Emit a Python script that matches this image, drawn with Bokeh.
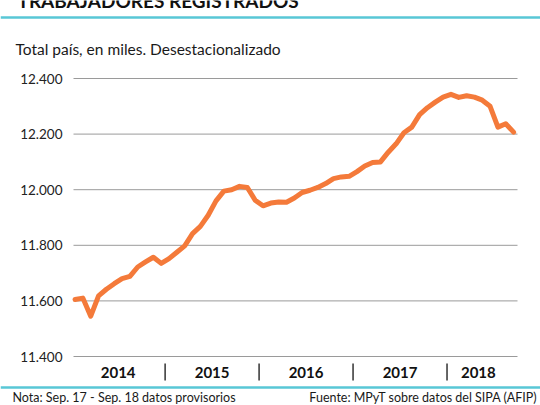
from bokeh.plotting import figure
from bokeh.models import Range1d
from bokeh.core.properties import value
from bokeh.embed import file_html
from bokeh.resources import INLINE

# ---- data ----
years = ["2014", "2015", "2016", "2017", "2018"]
values = [
    11605, 11610, 11545, 11618, 11642, 11662, 11680, 11688, 11722, 11740, 11757, 11735,   # 2014
    11752, 11775, 11798, 11842, 11868, 11908, 11960, 11995, 12000, 12012, 12008, 11962,   # 2015
    11942, 11952, 11956, 11955, 11970, 11990, 11998, 12008, 12022, 12040, 12046, 12048,   # 2016
    12065, 12085, 12098, 12100, 12135, 12165, 12205, 12225, 12270, 12295, 12315, 12333,   # 2017
    12343, 12332, 12338, 12333, 12322, 12300, 12225, 12237, 12207,                        # 2018 (to Sep)
]
y_ticks = [11400, 11600, 11800, 12000, 12200, 12400]
y_tick_labels = [f"{v:,}".replace(",", ".") for v in y_ticks]
title = "TRABAJADORES REGISTRADOS"
subtitle = "Total país, en miles. Desestacionalizado"
note = "Nota: Sep. 17 - Sep. 18 datos provisorios"
source = "Fuente: MPyT sobre datos del SIPA (AFIP)"

months = [i + 0.5 for i in range(len(values))]
X0, X1 = 0.3, 57.0                      # plotted month span
separators = [12 * (i + 1) for i in range(len(years) - 1)]
label_pos = [12 * i + 6 for i in range(len(years) - 1)] + [round((separators[-1] + X1) / 2)]

FONT = value("Lato")
ORANGE = "#F47A3A"
CYAN = "#58C7D6"
INK = "#1a1a1a"

# ---- layout (canvas pixels) ----
W, H = 540, 405
PL, PR, PT_, PB = 73, 517, 78, 356        # plot area: x 73..517, 12.400 at y=78, 11.400 at y=356
XS = (PR - PL) / (X1 - X0)               # px per month
YS = (PB - PT_) / (y_ticks[-1] - y_ticks[0])  # px per unit
x_start = X0 - PL / XS
x_end = X1 + (W - PR) / XS
y_end = y_ticks[-1] + PT_ / YS
y_start = y_ticks[0] - (H - PB) / YS


def cx(px):
    return x_start + px / XS


def cy(py):
    return y_end - py / YS


p = figure(width=W, height=H, output_backend="svg", toolbar_location=None,
           x_range=Range1d(x_start, x_end), y_range=Range1d(y_start, y_end),
           x_axis_type=None, y_axis_type=None, min_border=0)
p.outline_line_color = None
p.background_fill_color = "white"
p.border_fill_color = "white"

# gridlines
p.segment(x0=[X0] * len(y_ticks), x1=[X1] * len(y_ticks), y0=y_ticks, y1=y_ticks,
          line_color="#9a9a9a", line_width=1)

# data line
p.line(months, values, line_color=ORANGE, line_width=5, line_join="round", line_cap="round")

# y tick labels
p.text(x=[X0] * len(y_ticks), y=y_ticks, text=y_tick_labels, x_offset=-11,
       text_align="right", text_baseline="middle", text_font=FONT,
       text_font_size="13.5px", text_color="#222222")

# year labels and separators
p.text(x=label_pos, y=[y_ticks[0]] * len(label_pos), text=years, y_offset=16,
       text_align="center", text_baseline="middle", text_font=FONT,
       text_font_style="bold", text_font_size="15px", text_color="#111111")
p.segment(x0=separators, x1=separators,
          y0=[y_ticks[0] - 7 / YS] * len(separators), y1=[y_ticks[0] - 24 / YS] * len(separators),
          line_color="#333333", line_width=1.5)

# header / footer texts
p.text(x=[cx(17)], y=[cy(0)], text=[title], text_align="left", text_baseline="alphabetic",
       text_font=FONT, text_font_style="bold", text_font_size="19px", text_color="#111111")
p.text(x=[cx(15)], y=[cy(48)], text=[subtitle], text_align="left", text_baseline="middle",
       text_font=FONT, text_font_size="15.5px", text_color=INK)
p.text(x=[cx(12)], y=[cy(397)], text=[note], text_align="left", text_baseline="middle",
       text_font=FONT, text_font_size="12.5px", text_color=INK)
p.text(x=[cx(537)], y=[cy(397)], text=[source], text_align="right", text_baseline="middle",
       text_font=FONT, text_font_size="12.5px", text_color=INK)

# cyan rules
p.segment(x0=[x_start, x_start], x1=[x_end, x_end], y0=[cy(17), cy(387)], y1=[cy(17), cy(387)],
          line_color=CYAN, line_width=2.5)

open("out.html", "w").write(file_html(p, INLINE))
